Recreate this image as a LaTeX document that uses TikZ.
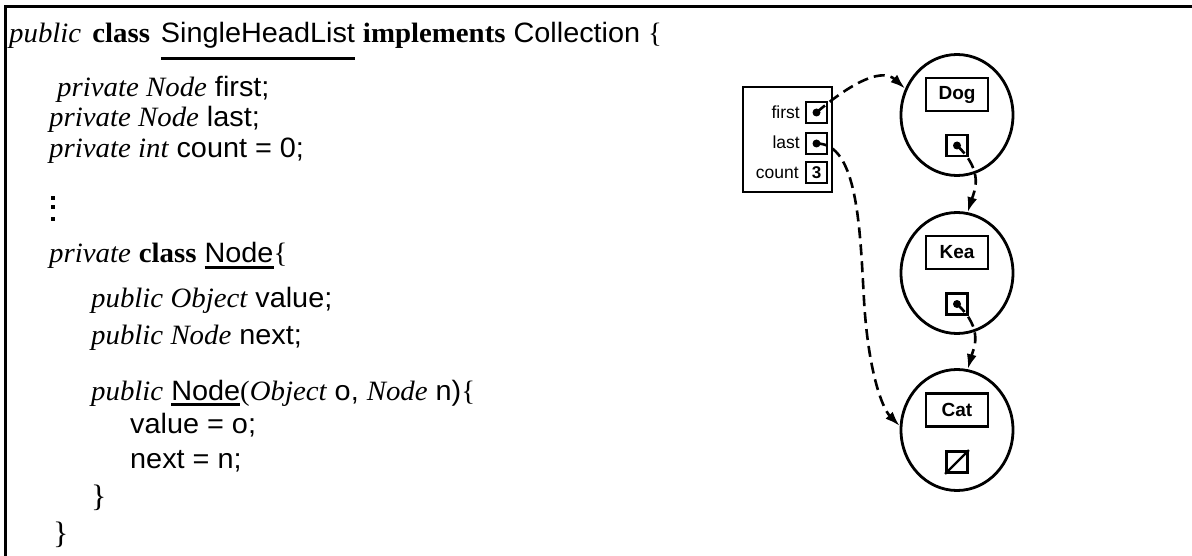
\documentclass[tikz,border=0pt]{standalone}
\usepackage{fontspec}
\setmainfont{Liberation Sans}
\newfontfamily\codesans{Liberation Sans}[FakeStretch=1.03]
\newfontfamily\codeserif{Liberation Serif}[FakeStretch=1.03]
\usetikzlibrary{arrows.meta,shapes.geometric}

% keywords and types in serif italic, reserved words in serif bold
\newcommand\kw[1]{{\codeserif\itshape #1}}
\newcommand\bk[1]{{\codeserif\bfseries #1}}
\newcommand\br[1]{{\codeserif #1}}
% identifier with a heavy underline: depth of rule bottom, thickness, text
\newcommand\ulid[3]{\setbox0\hbox{#3}\rlap{\rule[-#1]{\wd0}{#2}}\box0\relax}

\begin{document}
\begin{tikzpicture}[x=1pt,y=-1pt,
  code/.style={anchor=base west, inner sep=0, font=\fontsize{28}{32}\selectfont\codesans},
  brace/.style={anchor=base west, inner sep=0, font=\fontsize{31}{32}\selectfont\codeserif},
  frame/.style={draw, line width=2.8, inner sep=0},
  slot/.style={frame, minimum width=21, minimum height=21, font=\fontsize{17}{17}\selectfont\bfseries},
  fieldlbl/.style={anchor=base east, inner sep=0, font=\fontsize{17.5}{18}\selectfont},
  obj/.style={draw, ellipse, line width=2.8, minimum width=112, minimum height=121, inner sep=0},
  valbox/.style={frame, minimum width=62, minimum height=33, font=\fontsize{19}{19}\selectfont\bfseries},
  ptr/.style={line width=2.6, dash pattern=on 11pt off 6pt, -{Latex[length=15pt,width=10pt]}},
  dot/.style={fill, circle, inner sep=0, minimum size=8}]

\useasboundingbox (0,0) rectangle (1192,556);
\fill[white] (0,0) rectangle (1192,556);
\draw[line width=3] (1192,7) -- (5,7) -- (5,556);

% source code
\node[code] (l0) at (9,43) {\kw{public}\hspace{3pt} \bk{class}\hspace{3pt} \ulid{17.5pt}{3.5pt}{SingleHeadList} \bk{implements} Collection \br{\{}};
\node[code] (l1) at (57,97) {\kw{private Node} first;};
\node[code] (l2) at (49,127) {\kw{private Node} last;};
\node[code] (l3) at (49,158) {\kw{private int} count = 0;};
\fill (50.5,196) rectangle +(4,4);
\fill (50.5,205) rectangle +(4,4);
\fill (50.5,217) rectangle +(4,4);
\node[code] (l4) at (49,263) {\kw{private} \bk{class} \ulid{6pt}{2.8pt}{Node}\br{\{}};
\node[code] (l5) at (91,308) {\kw{public Object} value;};
\node[code] (l6) at (91,344) {\kw{public Node} next;};
\node[code] (l7) at (91,400) {\kw{public} \ulid{6pt}{2.8pt}{Node}\br{(}\kw{Object} o, \kw{Node} n)\br{\{}};
\node[code] (l8) at (130,433) {value = o;};
\node[code] (l9) at (130,468) {next = n;};
\node[brace] (l10) at (91,506) {\}};
\node[brace] (l11) at (53,543) {\}};

% list header object
\node[frame, minimum width=89, minimum height=105] (head) at (787.5,139.5) {};
\node[slot] (sfirst) at (816.5,112.5) {};
\node[slot] (slast) at (816.5,143.5) {};
\node[slot] (scount) at (816.5,172.5) {3};
\node[fieldlbl] (tfirst) at (800,119) {first};
\node[fieldlbl] (tlast) at (800,149) {last};
\node[fieldlbl] (tcount) at (799,178.5) {count};
\node[dot] (dfirst) at (sfirst.center) {};
\node[dot] (dlast) at (slast.center) {};

% list nodes
\node[obj] (dog) at (957,115) {};
\node[valbox] (dogv) at (957,94.5) {Dog};
\node[slot] (dogn) at (957,145.5) {};
\node[dot] (ddog) at (dogn.center) {};

\node[obj] (kea) at (957,273) {};
\node[valbox] (keav) at (957,252.5) {Kea};
\node[slot] (kean) at (957,304) {};
\node[dot] (dkea) at (kean.center) {};

\node[obj] (cat) at (957,430) {};
\node[valbox] (catv) at (957,410) {Cat};
\node[slot] (catn) at (957,462) {};
\draw[line width=2.2] (catn.south west) -- (catn.north east);

% references
\draw[ptr] (dfirst.center) .. controls (845,88) and (880,66) .. (dog.153);
\draw[ptr] (ddog.center) .. controls (985,172) and (974,192) .. (kea.80);
\draw[ptr] (dkea.center) .. controls (985,330) and (973,350) .. (cat.80);
\draw[ptr] (dlast.center) .. controls (858,143) and (860,230) .. (864,300)
  .. controls (868,370) and (882,408) .. (cat.176);
\end{tikzpicture}
\end{document}
